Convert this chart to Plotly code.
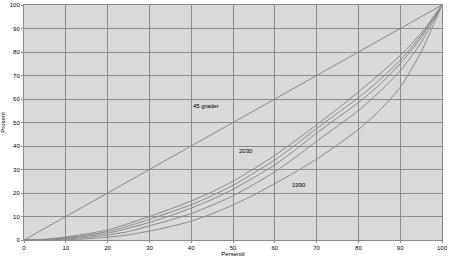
import plotly.graph_objects as go

percentil = [0, 5, 10, 15, 20, 25, 30, 35, 40, 45, 50, 55, 60, 65, 70, 75, 80, 85, 90, 95, 100]
diagonal = [0, 100]
kurve_2030 = [0, 0.3, 1.3, 2.6, 4.3, 7.0, 10.0, 13.2, 16.6, 20.5, 25.0, 30.3, 36.0, 42.3, 49.0, 55.8, 63.0, 70.5, 78.5, 88.0, 100]
kurve_b = [0, 0.2, 1.0, 2.1, 3.6, 6.0, 8.8, 11.8, 15.0, 18.9, 23.3, 28.5, 34.0, 40.5, 47.4, 54.0, 60.5, 68.0, 76.5, 87.0, 100]
kurve_c = [0, 0.1, 0.7, 1.6, 2.9, 5.0, 7.5, 10.3, 13.6, 17.3, 21.6, 26.6, 32.0, 38.5, 45.5, 52.0, 58.5, 66.0, 75.0, 86.0, 100]
kurve_d = [0, 0.05, 0.4, 1.1, 2.1, 3.6, 6.0, 8.5, 11.3, 14.8, 18.8, 23.7, 29.0, 35.3, 42.0, 48.5, 55.0, 63.0, 72.0, 84.0, 100]
kurve_1990 = [0, 0, 0.1, 0.5, 1.2, 2.2, 3.8, 5.7, 8.0, 11.2, 14.9, 19.2, 24.0, 29.0, 34.4, 40.5, 47.0, 55.0, 65.0, 80.0, 100]

x_ticks = [0, 10, 20, 30, 40, 50, 60, 70, 80, 90, 100]
y_ticks = [0, 10, 20, 30, 40, 50, 60, 70, 80, 90, 100]

line_col = "#8a8a8a"
fig = go.Figure()
fig.add_trace(go.Scatter(x=diagonal, y=diagonal, mode="lines", line=dict(color=line_col, width=1), showlegend=False))
for ys in [kurve_2030, kurve_b, kurve_c, kurve_d, kurve_1990]:
    fig.add_trace(go.Scatter(x=percentil, y=ys, mode="lines", line=dict(color=line_col, width=1, shape="spline", smoothing=0.6), showlegend=False))

ann_font = dict(family="Liberation Sans", size=6, color="#000")
fig.add_annotation(x=43.6, y=57, text="45 grader", showarrow=False, font=ann_font)
fig.add_annotation(x=53.2, y=38, text="2030", showarrow=False, font=ann_font)
fig.add_annotation(x=65.7, y=23.6, text="1990", showarrow=False, font=ann_font)

axis_common = dict(
    showgrid=True, gridcolor="#8c8c8c", gridwidth=1,
    showline=True, linecolor="#8c8c8c", linewidth=1, mirror=True,
    zeroline=False, ticks="outside", ticklen=2, tickcolor="#8c8c8c",
    tickfont=dict(family="Liberation Sans", size=6, color="#000"),
)
fig.update_xaxes(range=[0, 100], tickvals=x_ticks, **axis_common,
                 title=dict(text="Persentil", font=dict(family="Liberation Sans", size=6, color="#000"), standoff=1))
fig.update_yaxes(range=[0, 100], tickvals=y_ticks, **axis_common,
                 title=dict(text="Prosent", font=dict(family="Liberation Sans", size=6, color="#000"), standoff=4))
fig.update_layout(
    width=450, height=258,
    margin=dict(l=24, r=6, t=2, b=18),
    plot_bgcolor="#d9d9d9", paper_bgcolor="#ffffff",
)
fig.write_html("out.html")
